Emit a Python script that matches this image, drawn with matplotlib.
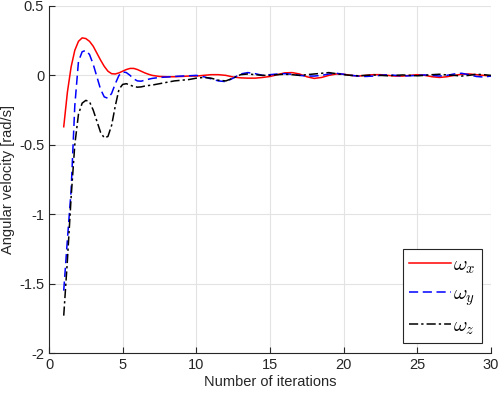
import matplotlib
matplotlib.use("Agg")
import matplotlib.pyplot as plt

# iteration index (dense at the start where the transient is)
iters = [1, 1.25, 1.5, 1.75, 2, 2.25, 2.5, 2.75, 3, 3.25, 3.5, 3.75, 4, 4.25, 4.5,
         4.75, 5, 5.25, 5.5, 5.75, 6, 6.25, 6.5, 6.75, 7, 7.5, 8, 8.5, 9, 9.5, 10,
         10.5, 11, 11.5, 12, 12.5, 13, 13.5, 14, 14.5, 15, 15.5, 16, 16.5, 17, 17.5,
         18, 18.5, 19, 19.5, 20, 20.5, 21, 21.5, 22, 22.5, 23, 23.5, 24, 24.5, 25,
         25.5, 26, 26.5, 27, 27.5, 28, 28.5, 29, 29.5, 30]

omega_x = [-0.37, -0.12, 0.06, 0.18, 0.245, 0.27, 0.265, 0.245, 0.21, 0.16, 0.11,
           0.065, 0.03, 0.012, 0.01, 0.018, 0.03, 0.042, 0.05, 0.05, 0.042, 0.03,
           0.018, 0.008, 0.0, -0.008, -0.01, -0.01, -0.008, -0.005, -0.005, 0.0,
           0.005, 0.005, 0.0, -0.012, -0.018, -0.02, -0.02, -0.015, -0.008, 0.005,
           0.018, 0.02, 0.01, -0.01, -0.022, -0.015, 0.0, 0.01, 0.008, 0.0, -0.005,
           0.0, 0.005, 0.005, 0.0, -0.005, -0.005, 0.0, 0.005, 0.0, -0.01, -0.015,
           -0.01, 0.0, 0.008, 0.01, 0.005, 0.0, -0.005]

omega_y = [-1.55, -1.18, -0.83, -0.22, 0.1, 0.17, 0.18, 0.15, 0.08, -0.01, -0.1,
           -0.155, -0.165, -0.13, -0.06, 0.0, 0.025, 0.02, 0.0, -0.025, -0.04,
           -0.042, -0.035, -0.028, -0.022, -0.015, -0.012, -0.008, -0.005, -0.003,
           0.0, -0.01, -0.025, -0.04, -0.045, -0.02, 0.01, 0.02, 0.012, 0.0, 0.005,
           0.01, 0.012, 0.008, 0.0, -0.005, -0.005, 0.0, 0.01, 0.015, 0.008, 0.0,
           -0.005, -0.008, -0.005, 0.0, 0.005, 0.0, -0.005, -0.003, 0.0, 0.003,
           0.0, -0.005, 0.0, 0.01, 0.015, 0.005, -0.008, -0.012, -0.005]

omega_z = [-1.73, -1.33, -0.88, -0.5, -0.28, -0.2, -0.18, -0.19, -0.25, -0.33,
           -0.41, -0.45, -0.44, -0.36, -0.22, -0.1, -0.065, -0.06, -0.07, -0.08,
           -0.085, -0.083, -0.077, -0.073, -0.07, -0.06, -0.05, -0.04, -0.035,
           -0.03, -0.02, -0.015, -0.02, -0.035, -0.04, -0.02, 0.005, 0.01, 0.005,
           0.0, 0.0, 0.005, 0.008, 0.005, 0.0, 0.005, 0.01, 0.015, 0.02, 0.012,
           0.005, 0.0, -0.003, 0.0, 0.003, 0.0, -0.003, 0.0, 0.003, 0.0, -0.003,
           0.0, 0.005, 0.008, 0.003, 0.0, -0.005, 0.0, 0.008, 0.005, 0.0]

xticks = [0, 5, 10, 15, 20, 25, 30]
yticks = [-2, -1.5, -1, -0.5, 0, 0.5]

plt.rcParams["font.family"] = ["Liberation Sans", "DejaVu Sans"]
plt.rcParams["mathtext.fontset"] = "cm"

fig = plt.figure(figsize=(5, 3.95), dpi=100)
ax = fig.add_axes([0.098, 0.106, 0.884, 0.879])

ax.plot(iters, omega_x, color="#ff0000", lw=1.1, ls="-", label=r"$\omega_x$")
ax.plot(iters, omega_y, color="#0000ff", lw=1.1, ls=(0, (6, 3)), label=r"$\omega_y$")
ax.plot(iters, omega_z, color="black", lw=1.1, ls=(0, (6, 2, 1.5, 2)), label=r"$\omega_z$")

ax.set_xlim(0, 30)
ax.set_ylim(-2, 0.5)
ax.set_xticks(xticks)
ax.set_yticks(yticks)
ax.set_yticklabels(["-2", "-1.5", "-1", "-0.5", "0", "0.5"])
ax.grid(True, color="#e3e3e3", lw=0.8)
ax.set_axisbelow(True)
for side in ("top", "right"):
    ax.spines[side].set_visible(False)
for side in ("left", "bottom"):
    ax.spines[side].set_color("#262626")
    ax.spines[side].set_linewidth(0.8)
ax.tick_params(direction="in", length=4, width=0.8, colors="#262626",
               labelsize=10.5, labelcolor="#262626")
ax.set_xlabel("Number of iterations", fontsize=10.5, color="#262626", labelpad=2)
ax.set_ylabel("Angular velocity [rad/s]", fontsize=10.5, color="#262626", labelpad=3)

leg = ax.legend(loc="lower right", fontsize=15, handlelength=2.0, handletextpad=0.1,
                labelspacing=0.4, borderpad=0.3, fancybox=False, framealpha=1,
                edgecolor="#262626", bbox_to_anchor=(0.98, 0.029), borderaxespad=0)
leg.get_frame().set_linewidth(0.8)

fig.savefig("out.png", dpi=100)
